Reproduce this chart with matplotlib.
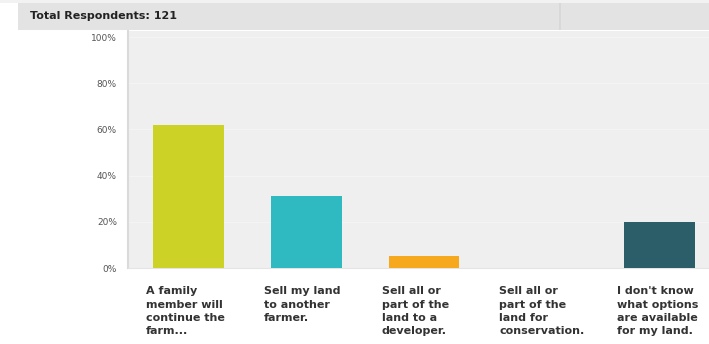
import matplotlib.pyplot as plt
from matplotlib.patches import Rectangle

# survey answers and share of respondents (%)
answers = [
    "A family\nmember will\ncontinue the\nfarm...",
    "Sell my land\nto another\nfarmer.",
    "Sell all or\npart of the\nland to a\ndeveloper.",
    "Sell all or\npart of the\nland for\nconservation.",
    "I don't know\nwhat options\nare available\nfor my land.",
]
percent = [62, 31, 5, 0, 20]
colors = ["#cdd226", "#2fb9c1", "#f6a91c", "#2f9fa8", "#2b5e69"]
yticks = [0, 20, 40, 60, 80, 100]
title = "Total Respondents: 121"

W, H = 709, 344
fig = plt.figure(figsize=(W / 100, H / 100), dpi=100)
fig.patch.set_facecolor("white")

# header band
fig.patches.append(Rectangle((0, 1 - 3 / H), 1, 3 / H, transform=fig.transFigure,
                             facecolor="#f2f2f2", edgecolor="none"))
fig.patches.append(Rectangle((18 / W, 1 - 30 / H), 1 - 18 / W, 27 / H,
                             transform=fig.transFigure,
                             facecolor="#e3e3e3", edgecolor="none"))
fig.patches.append(Rectangle((559 / W, 1 - 30 / H), 2 / W, 27 / H,
                             transform=fig.transFigure,
                             facecolor="#d8d8d8", edgecolor="none"))
fig.text(30 / W, 1 - 16 / H, title, fontsize=8, fontweight="bold",
         color="#222222", va="center", ha="left")

left, bottom, top = 128, 268, 31
ax = fig.add_axes([left / W, 1 - bottom / H, 1 - left / W, (bottom - top) / H])
ax.set_facecolor("#efefef")

width = 0.6
xs = list(range(len(percent)))
ax.bar(xs, percent, width=width, color=colors, zorder=3)

ax.set_xlim(-0.514, 4.42)
ax.set_ylim(0, 102.6)
ax.set_yticks(yticks)
ax.set_yticklabels([f"{v}%" for v in yticks], fontsize=6.5, color="#555555")
ax.tick_params(axis="y", length=0, pad=8)
ax.set_xticks([])
ax.yaxis.grid(True, color="#f4f4f4", linewidth=1, zorder=0)

for s in ["top", "right"]:
    ax.spines[s].set_visible(False)
ax.spines["left"].set_color("#dadada")
ax.spines["left"].set_linewidth(1.5)
ax.spines["bottom"].set_color("#e4e4e4")

# category labels, starting just left of each bar
for x, label in zip(xs, answers):
    ax.text(x - width / 2 - 0.06, -0.078, label, transform=ax.get_xaxis_transform(),
            ha="left", va="top", fontsize=8, fontweight="bold",
            color="#333333", linespacing=1.4)

fig.savefig("out.png", dpi=100)
